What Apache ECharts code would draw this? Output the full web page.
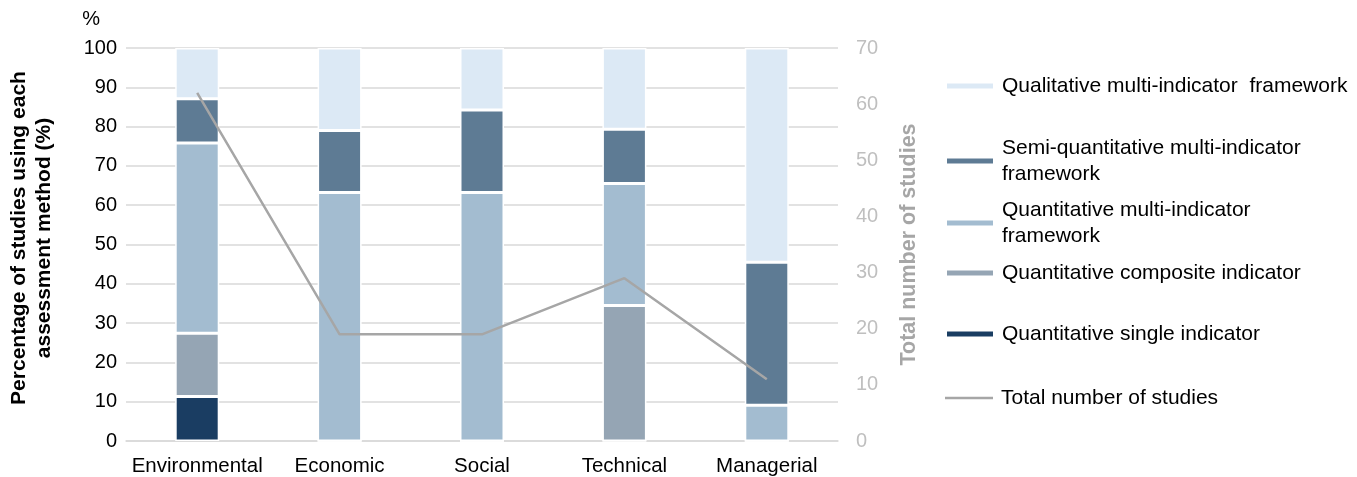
<!DOCTYPE html>
<html>
<head>
<meta charset="utf-8">
<script src="https://cdn.jsdelivr.net/npm/echarts@6/dist/echarts.min.js"></script>
<style>
  html, body { margin: 0; padding: 0; background: #fff; }
  #main { width: 1357px; height: 477px; }
</style>
</head>
<body>
<div id="main"></div>
<script>
// categories and values (percent of studies per method)
var categories = ["Environmental", "Economic", "Social", "Technical", "Managerial"];
var singleIndicator = [11.3, 0, 0, 0, 0];
var compositeIndicator = [16.1, 0, 0, 34.5, 0];
var quantMulti = [48.4, 63.2, 63.2, 31.0, 9.1];
var semiQuantMulti = [11.3, 15.8, 21.0, 13.8, 36.4];
var qualMulti = [12.9, 21.0, 15.8, 20.7, 54.5];
var totalStudies = [62, 19, 19, 29, 11];
var leftTicks = [0, 100, 10];
var rightTicks = [0, 70, 10];

var names = [
  "Qualitative multi-indicator  framework",
  "Semi-quantitative multi-indicator\nframework",
  "Quantitative multi-indicator\nframework",
  "Quantitative composite indicator",
  "Quantitative single indicator",
  "Total number of studies"
];
var colors = ["#DCE9F5", "#5E7B94", "#A3BCD0", "#95A5B4", "#1A3D62", "#A6A6A6"];
var legendTops = [68, 130, 192, 255, 316, 380];

var font = "'Liberation Sans', Arial, sans-serif";

function bar(name, data, color) {
  return {
    name: name,
    type: "bar",
    stack: "pct",
    data: data,
    barWidth: 44,
    itemStyle: { color: color, borderColor: "#fff", borderWidth: 1.5 },
    emphasis: { disabled: true }
  };
}

var legends = names.map(function (n, i) {
  return {
    data: [{ name: n, icon: "rect" }],
    left: 940,
    top: legendTops[i],
    orient: "vertical",
    itemWidth: 48,
    itemHeight: i === 5 ? 2.5 : 7,
    itemGap: 0,
    textStyle: { fontFamily: font, fontSize: 21, color: "#000", lineHeight: 26, padding: [0, 0, 0, 3] }
  };
});

var chart = echarts.init(document.getElementById("main"));
chart.setOption({
  animation: false,
  grid: { left: 126, right: 519, top: 48, bottom: 36 },
  legend: legends,
  xAxis: {
    type: "category",
    data: categories,
    axisTick: { show: false },
    axisLine: { lineStyle: { color: "#D9D9D9", width: 1.5 } },
    axisLabel: { fontFamily: font, fontSize: 20.5, color: "#000", margin: 15, interval: 0, hideOverlap: false }
  },
  yAxis: [
    {
      type: "value",
      min: leftTicks[0], max: leftTicks[1], interval: leftTicks[2],
      name: "%",
      nameLocation: "end",
      nameGap: 19,
      nameTextStyle: { fontFamily: font, fontSize: 20, color: "#000", align: "right", padding: [0, 26, 0, 0] },
      axisLine: { show: false },
      axisTick: { show: false },
      axisLabel: { fontFamily: font, fontSize: 20, color: "#000", margin: 9 },
      splitLine: { lineStyle: { color: "#D9D9D9", width: 1.5 } }
    },
    {
      type: "value",
      min: rightTicks[0], max: rightTicks[1], interval: rightTicks[2],
      position: "right",
      name: "Total number of studies",
      nameLocation: "middle",
      nameRotate: 90,
      nameGap: 60,
      nameTextStyle: { fontFamily: font, fontSize: 21.5, fontWeight: "bold", color: "#A6A6A6" },
      axisLine: { show: false },
      axisTick: { show: false },
      axisLabel: { fontFamily: font, fontSize: 20, color: "#BFBFBF", margin: 18 },
      splitLine: { show: false }
    }
  ],
  graphic: [{
    type: "text",
    x: 32,
    y: 238,
    rotation: Math.PI / 2,
    style: {
      text: "Percentage of studies using each\nassessment method (%)",
      font: "bold 21px " + font,
      fill: "#000",
      align: "center",
      verticalAlign: "middle",
      lineHeight: 25
    }
  }],
  series: [
    bar(names[4], singleIndicator, colors[4]),
    bar(names[3], compositeIndicator, colors[3]),
    bar(names[2], quantMulti, colors[2]),
    bar(names[1], semiQuantMulti, colors[1]),
    bar(names[0], qualMulti, colors[0]),
    {
      name: names[5],
      type: "line",
      yAxisIndex: 1,
      data: totalStudies,
      showSymbol: false,
      symbol: "none",
      lineStyle: { color: colors[5], width: 2.5 },
      itemStyle: { color: colors[5] },
      emphasis: { disabled: true }
    }
  ]
});
</script>
</body>
</html>
